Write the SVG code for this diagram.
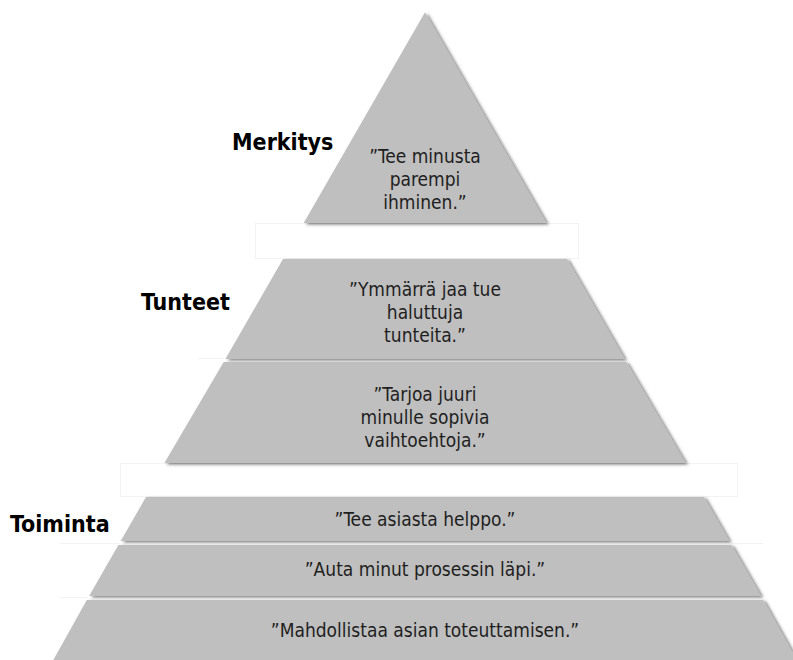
<svg xmlns="http://www.w3.org/2000/svg" width="793" height="660" viewBox="0 0 793 660">
  <defs>
    <filter id="shade" x="-5%" y="-5%" width="115%" height="120%">
      <feDropShadow dx="2.5" dy="1.5" stdDeviation="1.4" flood-color="#000" flood-opacity="0.5"/>
    </filter>
  </defs>
  <style>
    .tier { fill: #bfbfbf; filter: url(#shade); }
    .box { fill: none; stroke: #f3f3f3; stroke-width: 1; }
    .quote { font-family: "DejaVu Sans Condensed", "DejaVu Sans", sans-serif; font-size: 19px; fill: #1e1e1e; text-anchor: middle; }
    .level { font-family: "DejaVu Sans Condensed", "DejaVu Sans", sans-serif; font-weight: bold; font-size: 23px; fill: #000; }
  </style>
  <rect width="793" height="660" fill="#fff"/>

  <!-- faint frames around the gaps between level groups -->
  <g id="frames">
    <rect class="box" x="255.5" y="223.5" width="323" height="35"/>
    <rect class="box" x="120.5" y="463.5" width="617" height="33"/>
    <line class="box" x1="198" y1="358.5" x2="224" y2="358.5"/>
    <line class="box" x1="60" y1="543.5" x2="119" y2="543.5"/>
    <line class="box" x1="731" y1="543.5" x2="763" y2="543.5"/>
    <line class="box" x1="60" y1="597.5" x2="88" y2="597.5"/>
  </g>

  <!-- Merkitys -->
  <g id="tier-meaning">
    <polygon class="tier" points="425,12.3 546.3,223 303.7,223"/>
    <text class="quote" x="425" y="163">”Tee minusta</text>
    <text class="quote" x="425" y="186">parempi</text>
    <text class="quote" x="425" y="209">ihminen.”</text>
  </g>

  <!-- Tunteet -->
  <g id="tier-feelings-1">
    <polygon class="tier" points="283,259 567,259 624.6,359 225.4,359"/>
    <text class="quote" x="425" y="296">”Ymmärrä jaa tue</text>
    <text class="quote" x="425" y="319">haluttuja</text>
    <text class="quote" x="425" y="342">tunteita.”</text>
  </g>
  <g id="tier-feelings-2">
    <polygon class="tier" points="223.7,362 626.3,362 685.6,463 164.4,463"/>
    <text class="quote" x="425" y="401">”Tarjoa juuri</text>
    <text class="quote" x="425" y="424">minulle sopivia</text>
    <text class="quote" x="425" y="447">vaihtoehtoja.”</text>
  </g>

  <!-- Toiminta -->
  <g id="tier-action-1">
    <polygon class="tier" points="146,497 704,497 729.3,541 120.7,541"/>
    <text class="quote" x="425" y="526">”Tee asiasta helppo.”</text>
  </g>
  <g id="tier-action-2">
    <polygon class="tier" points="118.4,545 731.6,545 760.9,596 89.1,596"/>
    <text class="quote" x="425" y="576">”Auta minut prosessin läpi.”</text>
  </g>
  <g id="tier-action-3">
    <polygon class="tier" points="86.8,600 763.2,600 797.8,662 52.2,662"/>
    <text class="quote" x="425" y="637">”Mahdollistaa asian toteuttamisen.”</text>
  </g>

  <!-- level names -->
  <g id="labels">
    <text class="level" x="232" y="150">Merkitys</text>
    <text class="level" x="141" y="310">Tunteet</text>
    <text class="level" x="10" y="532">Toiminta</text>
  </g>

  <g id="connectors"/>
</svg>
